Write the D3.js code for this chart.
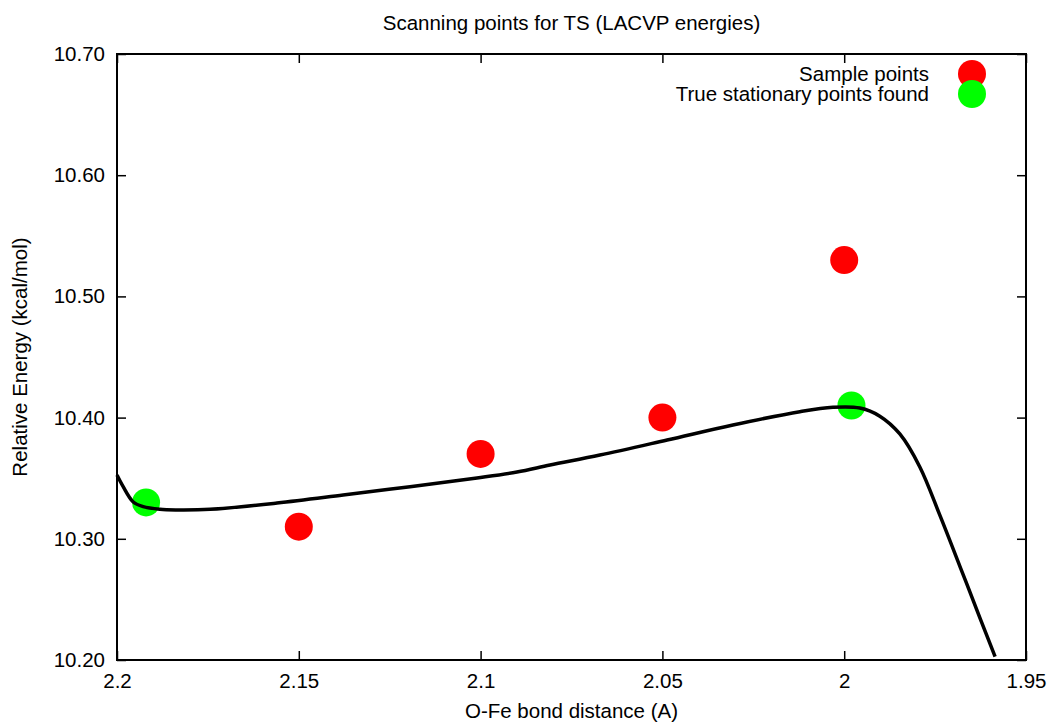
<!DOCTYPE html>
<html>
<head>
<meta charset="utf-8">
<script src="https://cdn.jsdelivr.net/npm/d3@7"></script>
<style>
  body { margin: 0; background: #fff; }
  text { font-family: "Liberation Sans", Arial, Helvetica, sans-serif; fill: #000; }
</style>
</head>
<body>
<svg id="chart" width="1052" height="722"></svg>
<script>
const svg = d3.select("#chart");

// sample points (red)
const sampleX = [2.15, 2.1, 2.05, 2.0];
const sampleY = [10.31, 10.37, 10.40, 10.53];

// true stationary points (green)
const stationX = [2.192, 1.998];
const stationY = [10.33, 10.41];

// fitted curve
const curveX = [2.2, 2.1983, 2.1956, 2.1928, 2.1882, 2.1835, 2.1744, 2.156, 2.1378, 2.1194, 2.101, 2.09,
                2.0809, 2.0672, 2.0487, 2.0306, 2.0122, 2.0031, 1.9957, 1.9902, 1.9847, 1.9792, 1.9737,
                1.9681, 1.9626, 1.9585];
const curveY = [10.3526, 10.343, 10.3306, 10.3265, 10.3243, 10.3238, 10.3243, 10.3295, 10.3361, 10.343, 10.3502, 10.3551,
                10.3609, 10.3691, 10.3815, 10.3939, 10.4049, 10.4085, 10.4079, 10.4012, 10.3865, 10.3593, 10.3195,
                10.2767, 10.2342, 10.2027];

const xTicks = [2.2, 2.15, 2.1, 2.05, 2, 1.95];
const yTicks = [10.20, 10.30, 10.40, 10.50, 10.60, 10.70];

const legendLabels = ["Sample points", "True stationary points found"];
const legendColors = ["#ff0000", "#00ff00"];

const pLeft = 117, pRight = 1026, pTop = 54, pBottom = 660;
const x = d3.scaleLinear().domain([2.2, 1.95]).range([pLeft, pRight]);
const y = d3.scaleLinear().domain([10.2, 10.7]).range([pBottom, pTop]);
const tickLen = 9;
const fontSize = "20.5px";

// axes with inward ticks, mirrored
svg.append("g")
    .attr("transform", `translate(0,${pBottom})`)
    .call(d3.axisBottom(x).tickValues(xTicks).tickSizeInner(-tickLen).tickSizeOuter(0).tickPadding(13)
        .tickFormat(d => String(d)))
    .call(g => g.select(".domain").remove())
    .call(g => g.selectAll("text").style("font-size", fontSize));

svg.append("g")
    .attr("transform", `translate(0,${pTop})`)
    .call(d3.axisTop(x).tickValues(xTicks).tickSizeInner(-tickLen).tickSizeOuter(0).tickFormat(""))
    .call(g => g.select(".domain").remove());

svg.append("g")
    .attr("transform", `translate(${pLeft},0)`)
    .call(d3.axisLeft(y).tickValues(yTicks).tickSizeInner(-tickLen).tickSizeOuter(0).tickPadding(12)
        .tickFormat(d3.format(".2f")))
    .call(g => g.select(".domain").remove())
    .call(g => g.selectAll("text").style("font-size", fontSize));

svg.append("g")
    .attr("transform", `translate(${pRight},0)`)
    .call(d3.axisRight(y).tickValues(yTicks).tickSizeInner(-tickLen).tickSizeOuter(0).tickFormat(""))
    .call(g => g.select(".domain").remove());

svg.selectAll(".tick line").attr("stroke", "#000").attr("stroke-width", 1.5);

svg.append("rect")
    .attr("x", pLeft).attr("y", pTop)
    .attr("width", pRight - pLeft).attr("height", pBottom - pTop)
    .attr("fill", "none").attr("stroke", "#000").attr("stroke-width", 2);

// points
const pts = svg.append("g");
pts.selectAll(".sample")
    .data(sampleX.map((d, i) => [d, sampleY[i]]))
    .join("circle")
    .attr("class", "sample")
    .attr("cx", d => x(d[0])).attr("cy", d => y(d[1]))
    .attr("r", 14).attr("fill", legendColors[0]);

pts.selectAll(".station")
    .data(stationX.map((d, i) => [d, stationY[i]]))
    .join("circle")
    .attr("class", "station")
    .attr("cx", d => x(d[0])).attr("cy", d => y(d[1]))
    .attr("r", 14).attr("fill", legendColors[1]);

// curve
const line = d3.line()
    .x(d => x(d[0])).y(d => y(d[1]))
    .curve(d3.curveCatmullRom.alpha(0.5));

svg.append("path")
    .datum(curveX.map((d, i) => [d, curveY[i]]))
    .attr("d", line)
    .attr("fill", "none")
    .attr("stroke", "#000")
    .attr("stroke-width", 3.5)
    .attr("stroke-linejoin", "round");

// legend
const legend = svg.append("g");
legendLabels.forEach((label, i) => {
    const ly = 74 + i * 20;
    legend.append("text")
        .attr("x", 929).attr("y", ly)
        .attr("dy", "0.35em")
        .attr("text-anchor", "end")
        .style("font-size", fontSize)
        .text(label);
    legend.append("circle")
        .attr("cx", 972).attr("cy", ly)
        .attr("r", 14).attr("fill", legendColors[i]);
});

// titles
svg.append("text")
    .attr("x", (pLeft + pRight) / 2).attr("y", 23)
    .attr("dy", "0.35em")
    .attr("text-anchor", "middle")
    .style("font-size", fontSize)
    .text("Scanning points for TS (LACVP energies)");

svg.append("text")
    .attr("x", (pLeft + pRight) / 2).attr("y", 711)
    .attr("dy", "0.35em")
    .attr("text-anchor", "middle")
    .style("font-size", fontSize)
    .text("O-Fe bond distance (A)");

svg.append("text")
    .attr("transform", `translate(20,${(pTop + pBottom) / 2}) rotate(-90)`)
    .attr("dy", "0.35em")
    .attr("text-anchor", "middle")
    .style("font-size", fontSize)
    .text("Relative Energy (kcal/mol)");
</script>
</body>
</html>
